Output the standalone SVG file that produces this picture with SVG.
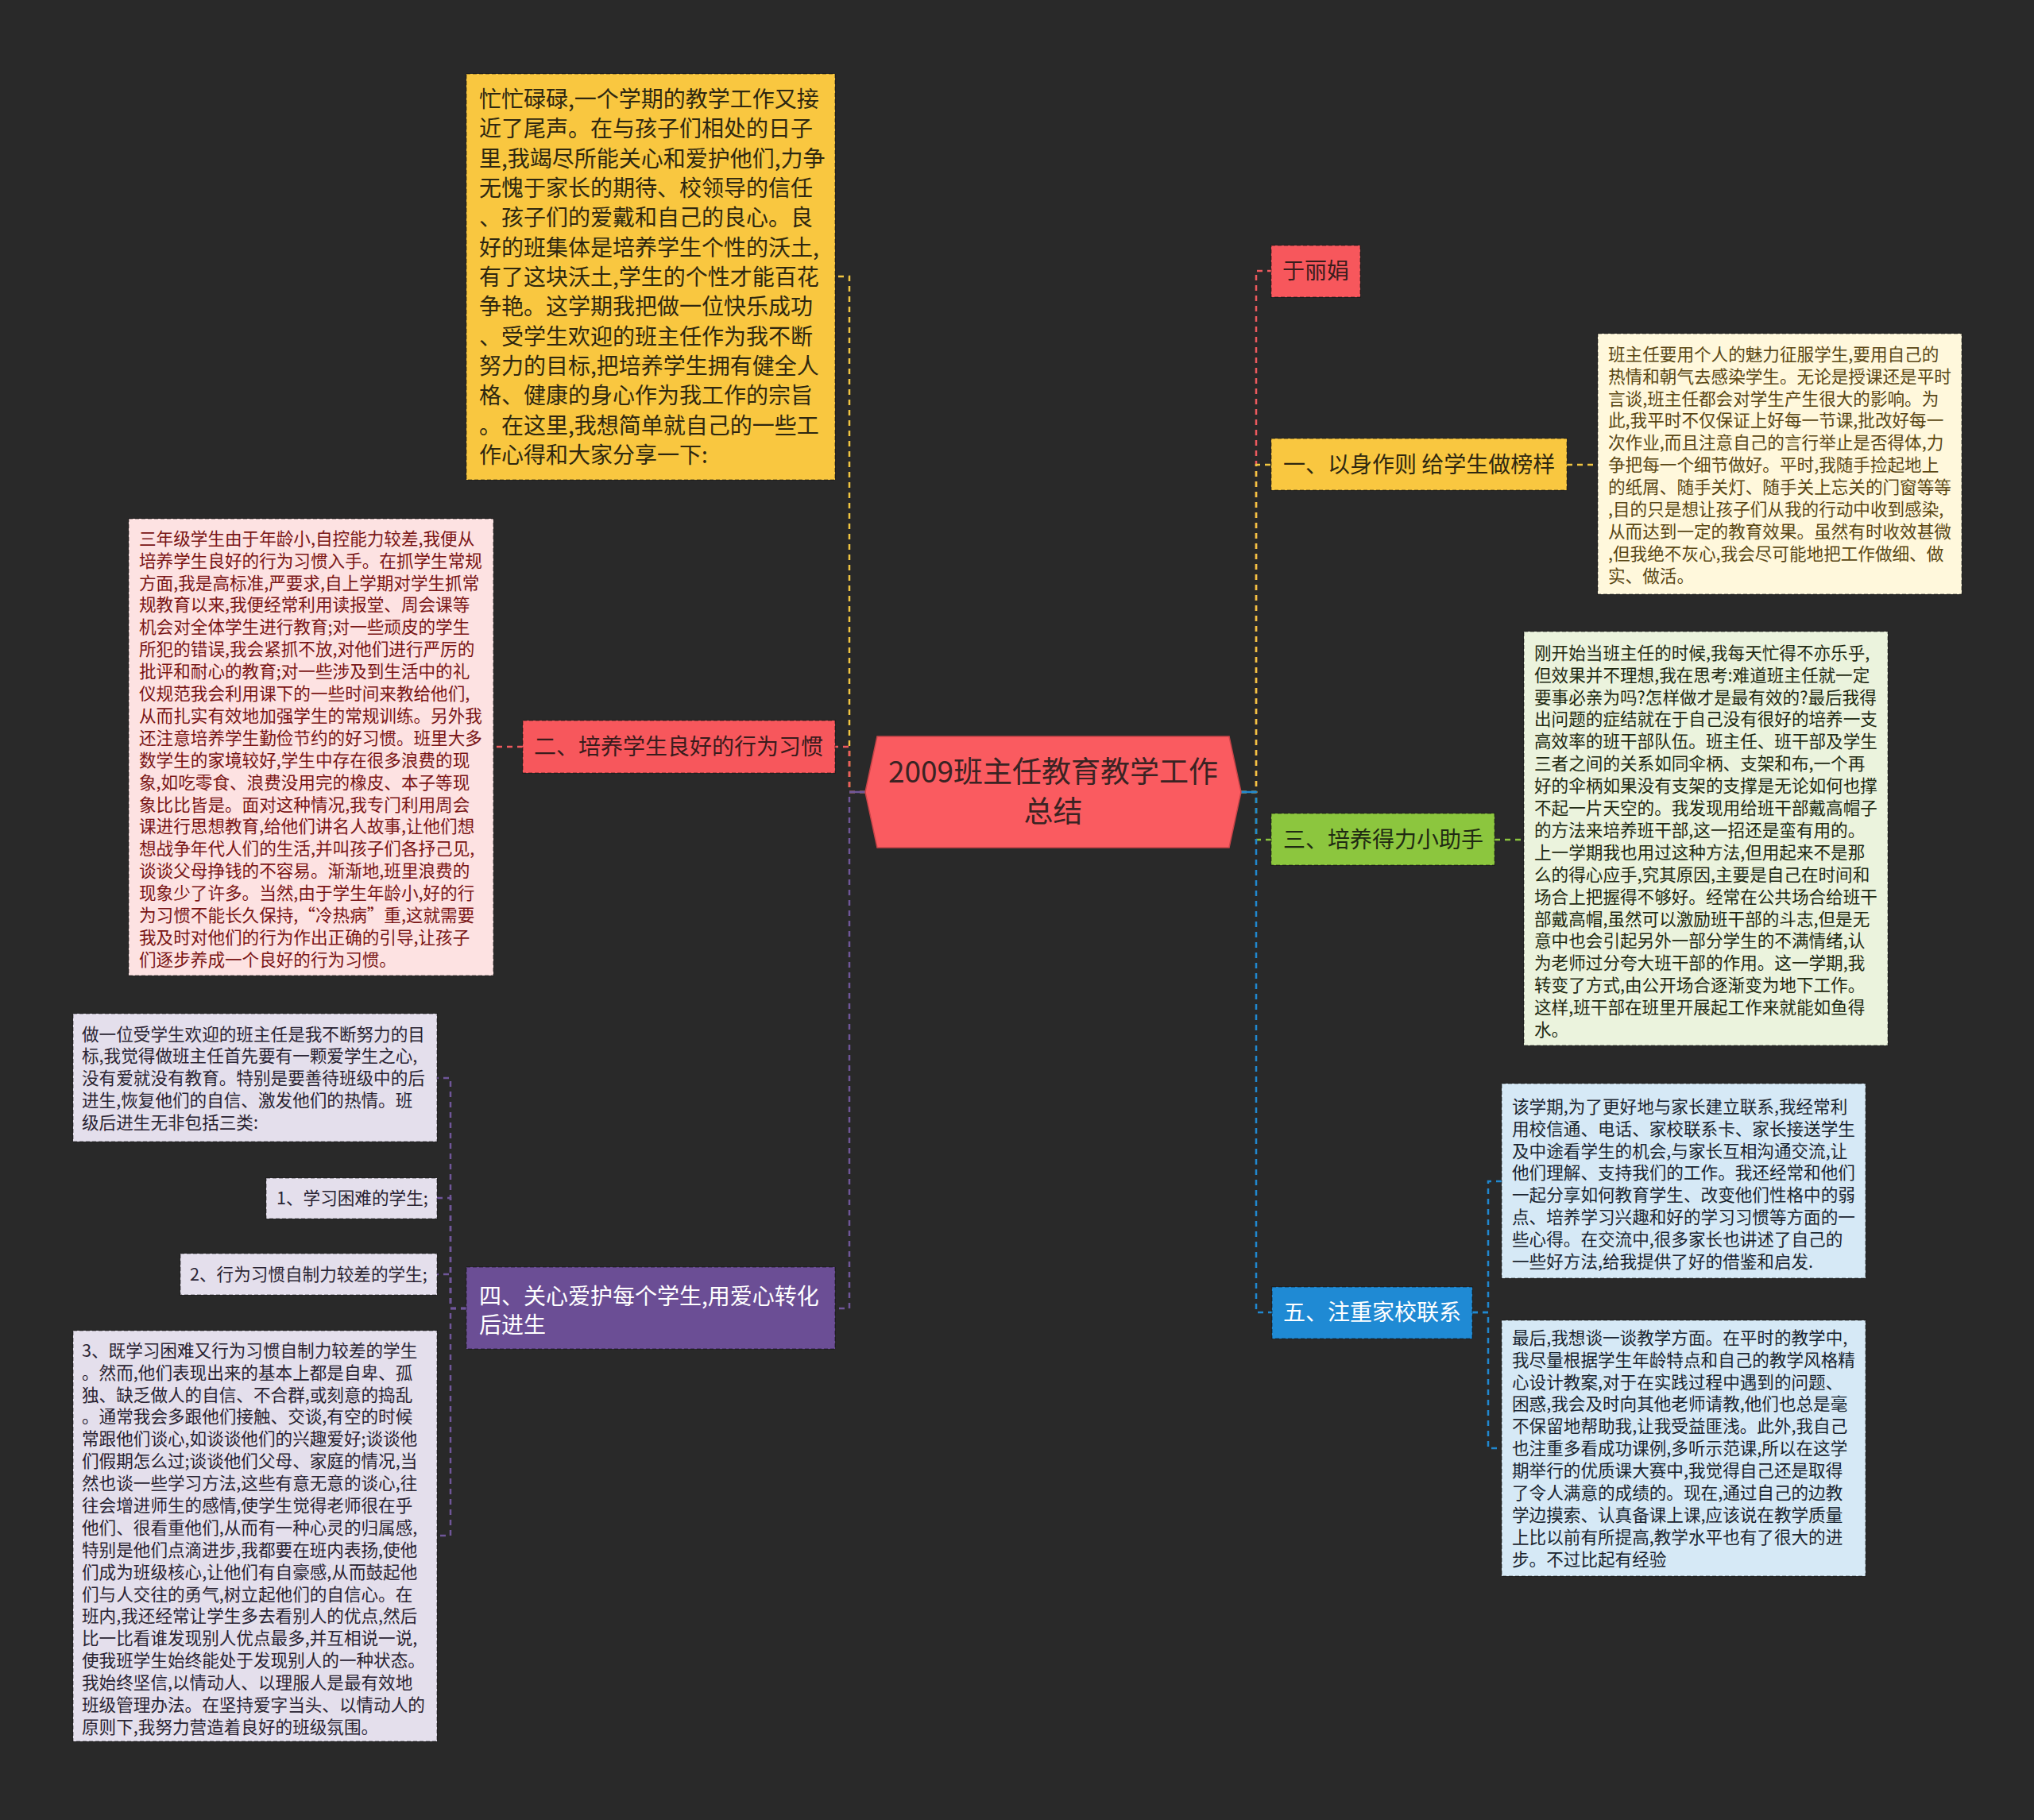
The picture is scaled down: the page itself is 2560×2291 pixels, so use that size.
<svg xmlns="http://www.w3.org/2000/svg" width="2560" height="2291" viewBox="0 0 2560 2291">
<style>
.bg{fill:#292929}
.c{fill:none;stroke-width:2.5;stroke-dasharray:7 6}
.cs{fill:none;stroke-width:2.5}
.nb{stroke:rgba(0,0,0,0.35);stroke-width:1.5;stroke-dasharray:5 3}
.f{font-family:"Noto Sans CJK SC","Liberation Sans",sans-serif}
.t28{font-size:28px}
.t21{font-size:21.6px}
.t37{font-size:37px}
.cy{stroke:#F2C641}.cr{stroke:#EE5A5E}.cg{stroke:#8CC63E}.cb{stroke:#2088D0}.cp{stroke:#6F5699}
</style>
<rect class="bg" x="0" y="0" width="2560" height="2291"/>
<g id="connectors">
  <path class="c cr" d="M1562,997 H1581 V341 H1600"/>
  <path class="c cy" d="M1562,997 H1581 V585 H1600"/>
  <path class="c cg" d="M1562,997 H1581 V1057 H1600"/>
  <path class="c cb" d="M1562,997 H1581 V1652 H1601"/>
  <path class="cs cb" d="M1562,997 H1581"/>
  <path class="c cy" d="M1089,997 H1069 V348 H1051"/>
  <path class="c cr" d="M1089,997 H1069 V940 H1051"/>
  <path class="c cp" d="M1089,997 H1069 V1647 H1051"/>
  <path class="cs cp" d="M1089,997 H1069"/>
  <path class="c cy" d="M1972,585 H2011"/>
  <path class="c cg" d="M1881,1057 H1918"/>
  <path class="c cr" d="M658,940 H621"/>
  <path class="c cp" d="M587,1647 H567 V1357 H550"/>
  <path class="c cp" d="M587,1647 H567 V1508 H550"/>
  <path class="c cp" d="M587,1647 H567 V1604 H550"/>
  <path class="c cp" d="M587,1647 H567 V1933 H550"/>
  <path class="c cb" d="M1853,1652 H1873 V1487 H1890"/>
  <path class="c cb" d="M1853,1652 H1873 V1823 H1890"/>
</g>
<g id="center">
  <polygon points="1089,997 1104,927 1547,927 1562,997 1547,1067 1104,1067" fill="#FA5B60" stroke="#C94448" stroke-width="1.5"/>
  <text class="f t37" x="1325.5" y="985" text-anchor="middle" fill="#3A2323">2009班主任教育教学工作</text>
  <text class="f t37" x="1325.5" y="1035" text-anchor="middle" fill="#3A2323">总结</text>
</g>
<g id="n-author">
  <rect class="nb" x="1600" y="309" width="112" height="65" fill="#F7575C"/>
  <text class="f t28" x="1614" y="351" fill="#3A1C1C">于丽娟</text>
</g>
<g id="n-1">
  <rect class="nb" x="1600" y="552" width="372" height="65" fill="#F9C740"/>
  <text class="f t28" x="1615" y="595" fill="#2E2710">一、以身作则 给学生做榜样</text>
</g>
<g id="n-1-detail">
  <rect class="nb" x="2011" y="420" width="458" height="328" fill="#FFF8DC"/>
  <text class="f t21" x="2024" y="453.7" fill="#5A4714">
    <tspan x="2024" dy="0">班主任要用个人的魅力征服学生,要用自己的</tspan>
    <tspan x="2024" dy="27.9">热情和朝气去感染学生。无论是授课还是平时</tspan>
    <tspan x="2024" dy="27.9">言谈,班主任都会对学生产生很大的影响。为</tspan>
    <tspan x="2024" dy="27.9">此,我平时不仅保证上好每一节课,批改好每一</tspan>
    <tspan x="2024" dy="27.9">次作业,而且注意自己的言行举止是否得体,力</tspan>
    <tspan x="2024" dy="27.9">争把每一个细节做好。平时,我随手捡起地上</tspan>
    <tspan x="2024" dy="27.9">的纸屑、随手关灯、随手关上忘关的门窗等等</tspan>
    <tspan x="2024" dy="27.9">,目的只是想让孩子们从我的行动中收到感染,</tspan>
    <tspan x="2024" dy="27.9">从而达到一定的教育效果。虽然有时收效甚微</tspan>
    <tspan x="2024" dy="27.9">,但我绝不灰心,我会尽可能地把工作做细、做</tspan>
    <tspan x="2024" dy="27.9">实、做活。</tspan>
  </text>
</g>
<g id="n-3">
  <rect class="nb" x="1600" y="1024" width="281" height="65" fill="#8CC63E"/>
  <text class="f t28" x="1615" y="1067" fill="#1F2A12">三、培养得力小助手</text>
</g>
<g id="n-3-detail">
  <rect class="nb" x="1918" y="795" width="458" height="521" fill="#EBF3DD"/>
  <text class="f t21" x="1931" y="829.7" fill="#1F2A12">
    <tspan x="1931" dy="0">刚开始当班主任的时候,我每天忙得不亦乐乎,</tspan>
    <tspan x="1931" dy="27.9">但效果并不理想,我在思考:难道班主任就一定</tspan>
    <tspan x="1931" dy="27.9">要事必亲为吗?怎样做才是最有效的?最后我得</tspan>
    <tspan x="1931" dy="27.9">出问题的症结就在于自己没有很好的培养一支</tspan>
    <tspan x="1931" dy="27.9">高效率的班干部队伍。班主任、班干部及学生</tspan>
    <tspan x="1931" dy="27.9">三者之间的关系如同伞柄、支架和布,一个再</tspan>
    <tspan x="1931" dy="27.9">好的伞柄如果没有支架的支撑是无论如何也撑</tspan>
    <tspan x="1931" dy="27.9">不起一片天空的。我发现用给班干部戴高帽子</tspan>
    <tspan x="1931" dy="27.9">的方法来培养班干部,这一招还是蛮有用的。</tspan>
    <tspan x="1931" dy="27.9">上一学期我也用过这种方法,但用起来不是那</tspan>
    <tspan x="1931" dy="27.9">么的得心应手,究其原因,主要是自己在时间和</tspan>
    <tspan x="1931" dy="27.9">场合上把握得不够好。经常在公共场合给班干</tspan>
    <tspan x="1931" dy="27.9">部戴高帽,虽然可以激励班干部的斗志,但是无</tspan>
    <tspan x="1931" dy="27.9">意中也会引起另外一部分学生的不满情绪,认</tspan>
    <tspan x="1931" dy="27.9">为老师过分夸大班干部的作用。这一学期,我</tspan>
    <tspan x="1931" dy="27.9">转变了方式,由公开场合逐渐变为地下工作。</tspan>
    <tspan x="1931" dy="27.9">这样,班干部在班里开展起工作来就能如鱼得</tspan>
    <tspan x="1931" dy="27.9">水。</tspan>
  </text>
</g>
<g id="n-5">
  <rect class="nb" x="1601" y="1620" width="252" height="65" fill="#1F8AD4"/>
  <text class="f t28" x="1615" y="1662" fill="#FFFFFF">五、注重家校联系</text>
</g>
<g id="n-5-detail-1">
  <rect class="nb" x="1890" y="1364" width="458" height="245" fill="#D6E9F6"/>
  <text class="f t21" x="1903" y="1400.7" fill="#1A2530">
    <tspan x="1903" dy="0">该学期,为了更好地与家长建立联系,我经常利</tspan>
    <tspan x="1903" dy="27.9">用校信通、电话、家校联系卡、家长接送学生</tspan>
    <tspan x="1903" dy="27.9">及中途看学生的机会,与家长互相沟通交流,让</tspan>
    <tspan x="1903" dy="27.9">他们理解、支持我们的工作。我还经常和他们</tspan>
    <tspan x="1903" dy="27.9">一起分享如何教育学生、改变他们性格中的弱</tspan>
    <tspan x="1903" dy="27.9">点、培养学习兴趣和好的学习习惯等方面的一</tspan>
    <tspan x="1903" dy="27.9">些心得。在交流中,很多家长也讲述了自己的</tspan>
    <tspan x="1903" dy="27.9">一些好方法,给我提供了好的借鉴和启发.</tspan>
  </text>
</g>
<g id="n-5-detail-2">
  <rect class="nb" x="1890" y="1662" width="458" height="322" fill="#D6E9F6"/>
  <text class="f t21" x="1903" y="1691.7" fill="#1A2530">
    <tspan x="1903" dy="0">最后,我想谈一谈教学方面。在平时的教学中,</tspan>
    <tspan x="1903" dy="27.9">我尽量根据学生年龄特点和自己的教学风格精</tspan>
    <tspan x="1903" dy="27.9">心设计教案,对于在实践过程中遇到的问题、</tspan>
    <tspan x="1903" dy="27.9">困惑,我会及时向其他老师请教,他们也总是毫</tspan>
    <tspan x="1903" dy="27.9">不保留地帮助我,让我受益匪浅。此外,我自己</tspan>
    <tspan x="1903" dy="27.9">也注重多看成功课例,多听示范课,所以在这学</tspan>
    <tspan x="1903" dy="27.9">期举行的优质课大赛中,我觉得自己还是取得</tspan>
    <tspan x="1903" dy="27.9">了令人满意的成绩的。现在,通过自己的边教</tspan>
    <tspan x="1903" dy="27.9">学边摸索、认真备课上课,应该说在教学质量</tspan>
    <tspan x="1903" dy="27.9">上比以前有所提高,教学水平也有了很大的进</tspan>
    <tspan x="1903" dy="27.9">步。不过比起有经验</tspan>
  </text>
</g>
<g id="n-intro">
  <rect class="nb" x="587" y="93" width="464" height="511" fill="#F9C740"/>
  <text class="f t28" x="603" y="135" fill="#2E2710">
    <tspan x="603" dy="0">忙忙碌碌,一个学期的教学工作又接</tspan>
    <tspan x="603" dy="37.33">近了尾声。在与孩子们相处的日子</tspan>
    <tspan x="603" dy="37.33">里,我竭尽所能关心和爱护他们,力争</tspan>
    <tspan x="603" dy="37.33">无愧于家长的期待、校领导的信任</tspan>
    <tspan x="603" dy="37.33">、孩子们的爱戴和自己的良心。良</tspan>
    <tspan x="603" dy="37.33">好的班集体是培养学生个性的沃土,</tspan>
    <tspan x="603" dy="37.33">有了这块沃土,学生的个性才能百花</tspan>
    <tspan x="603" dy="37.33">争艳。这学期我把做一位快乐成功</tspan>
    <tspan x="603" dy="37.33">、受学生欢迎的班主任作为我不断</tspan>
    <tspan x="603" dy="37.33">努力的目标,把培养学生拥有健全人</tspan>
    <tspan x="603" dy="37.33">格、健康的身心作为我工作的宗旨</tspan>
    <tspan x="603" dy="37.33">。在这里,我想简单就自己的一些工</tspan>
    <tspan x="603" dy="37.33">作心得和大家分享一下:</tspan>
  </text>
</g>
<g id="n-2">
  <rect class="nb" x="658" y="907" width="393" height="66" fill="#F7575C"/>
  <text class="f t28" x="672" y="950" fill="#3A1C1C">二、培养学生良好的行为习惯</text>
</g>
<g id="n-2-detail">
  <rect class="nb" x="162" y="653" width="459" height="575" fill="#FDE2E2"/>
  <text class="f t21" x="175" y="685.7" fill="#7A1515">
    <tspan x="175" dy="0">三年级学生由于年龄小,自控能力较差,我便从</tspan>
    <tspan x="175" dy="27.9">培养学生良好的行为习惯入手。在抓学生常规</tspan>
    <tspan x="175" dy="27.9">方面,我是高标准,严要求,自上学期对学生抓常</tspan>
    <tspan x="175" dy="27.9">规教育以来,我便经常利用读报堂、周会课等</tspan>
    <tspan x="175" dy="27.9">机会对全体学生进行教育;对一些顽皮的学生</tspan>
    <tspan x="175" dy="27.9">所犯的错误,我会紧抓不放,对他们进行严厉的</tspan>
    <tspan x="175" dy="27.9">批评和耐心的教育;对一些涉及到生活中的礼</tspan>
    <tspan x="175" dy="27.9">仪规范我会利用课下的一些时间来教给他们,</tspan>
    <tspan x="175" dy="27.9">从而扎实有效地加强学生的常规训练。另外我</tspan>
    <tspan x="175" dy="27.9">还注意培养学生勤俭节约的好习惯。班里大多</tspan>
    <tspan x="175" dy="27.9">数学生的家境较好,学生中存在很多浪费的现</tspan>
    <tspan x="175" dy="27.9">象,如吃零食、浪费没用完的橡皮、本子等现</tspan>
    <tspan x="175" dy="27.9">象比比皆是。面对这种情况,我专门利用周会</tspan>
    <tspan x="175" dy="27.9">课进行思想教育,给他们讲名人故事,让他们想</tspan>
    <tspan x="175" dy="27.9">想战争年代人们的生活,并叫孩子们各抒己见,</tspan>
    <tspan x="175" dy="27.9">谈谈父母挣钱的不容易。渐渐地,班里浪费的</tspan>
    <tspan x="175" dy="27.9">现象少了许多。当然,由于学生年龄小,好的行</tspan>
    <tspan x="175" dy="27.9">为习惯不能长久保持,“冷热病”重,这就需要</tspan>
    <tspan x="175" dy="27.9">我及时对他们的行为作出正确的引导,让孩子</tspan>
    <tspan x="175" dy="27.9">们逐步养成一个良好的行为习惯。</tspan>
  </text>
</g>
<g id="n-4">
  <rect class="nb" x="587" y="1595" width="464" height="103" fill="#6B4E95"/>
  <text class="f t28" x="603" y="1642" fill="#FFFFFF">
    <tspan x="603" dy="0">四、关心爱护每个学生,用爱心转化</tspan>
    <tspan x="603" dy="36">后进生</tspan>
  </text>
</g>
<g id="n-4-detail-a">
  <rect class="nb" x="92" y="1276" width="458" height="161" fill="#E4DFEC"/>
  <text class="f t21" x="103" y="1309.5" fill="#2A2433">
    <tspan x="103" dy="0">做一位受学生欢迎的班主任是我不断努力的目</tspan>
    <tspan x="103" dy="27.9">标,我觉得做班主任首先要有一颗爱学生之心,</tspan>
    <tspan x="103" dy="27.9">没有爱就没有教育。特别是要善待班级中的后</tspan>
    <tspan x="103" dy="27.9">进生,恢复他们的自信、激发他们的热情。班</tspan>
    <tspan x="103" dy="27.9">级后进生无非包括三类:</tspan>
  </text>
</g>
<g id="n-4-detail-b">
  <rect class="nb" x="335" y="1483" width="215" height="51" fill="#E4DFEC"/>
  <text class="f t21" x="348" y="1515.7" fill="#2A2433">1、学习困难的学生;</text>
</g>
<g id="n-4-detail-c">
  <rect class="nb" x="227" y="1578" width="323" height="52" fill="#E4DFEC"/>
  <text class="f t21" x="239" y="1611.7" fill="#2A2433">2、行为习惯自制力较差的学生;</text>
</g>
<g id="n-4-detail-d">
  <rect class="nb" x="92" y="1675" width="458" height="517" fill="#E4DFEC"/>
  <text class="f t21" x="103" y="1707.7" fill="#2A2433">
    <tspan x="103" dy="0">3、既学习困难又行为习惯自制力较差的学生</tspan>
    <tspan x="103" dy="27.9">。然而,他们表现出来的基本上都是自卑、孤</tspan>
    <tspan x="103" dy="27.9">独、缺乏做人的自信、不合群,或刻意的捣乱</tspan>
    <tspan x="103" dy="27.9">。通常我会多跟他们接触、交谈,有空的时候</tspan>
    <tspan x="103" dy="27.9">常跟他们谈心,如谈谈他们的兴趣爱好;谈谈他</tspan>
    <tspan x="103" dy="27.9">们假期怎么过;谈谈他们父母、家庭的情况,当</tspan>
    <tspan x="103" dy="27.9">然也谈一些学习方法,这些有意无意的谈心,往</tspan>
    <tspan x="103" dy="27.9">往会增进师生的感情,使学生觉得老师很在乎</tspan>
    <tspan x="103" dy="27.9">他们、很看重他们,从而有一种心灵的归属感,</tspan>
    <tspan x="103" dy="27.9">特别是他们点滴进步,我都要在班内表扬,使他</tspan>
    <tspan x="103" dy="27.9">们成为班级核心,让他们有自豪感,从而鼓起他</tspan>
    <tspan x="103" dy="27.9">们与人交往的勇气,树立起他们的自信心。在</tspan>
    <tspan x="103" dy="27.9">班内,我还经常让学生多去看别人的优点,然后</tspan>
    <tspan x="103" dy="27.9">比一比看谁发现别人优点最多,并互相说一说,</tspan>
    <tspan x="103" dy="27.9">使我班学生始终能处于发现别人的一种状态。</tspan>
    <tspan x="103" dy="27.9">我始终坚信,以情动人、以理服人是最有效地</tspan>
    <tspan x="103" dy="27.9">班级管理办法。在坚持爱字当头、以情动人的</tspan>
    <tspan x="103" dy="27.9">原则下,我努力营造着良好的班级氛围。</tspan>
  </text>
</g>
</svg>
